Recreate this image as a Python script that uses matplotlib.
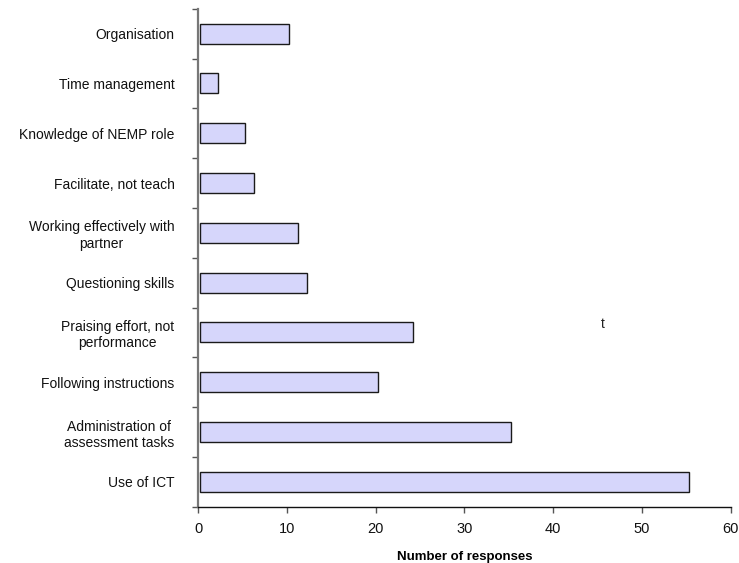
import numpy as np
import matplotlib
matplotlib.use("Agg")
import matplotlib.pyplot as plt
from matplotlib.ticker import FixedLocator

plt.rcParams['font.family'] = ['Liberation Sans', 'DejaVu Sans']

# skills mentioned, listed top to bottom
skills = ["Organisation", "Time management", "Knowledge of NEMP role",
          "Facilitate, not teach", "Working effectively with\npartner",
          "Questioning skills", "Praising effort, not\nperformance",
          "Following instructions", "Administration of\nassessment tasks",
          "Use of ICT"]
responses = [10, 2, 5, 6, 11, 12, 24, 20, 35, 55]

fig = plt.figure(figsize=(7.39, 5.63), dpi=100)
ax = fig.add_axes([0.268, 0.100, 0.721, 0.8845])

n = len(skills)
ypos = np.arange(n)
ax.barh(ypos, responses, height=0.4, left=0.25, color='#d6d6fb',
        edgecolor='#1a1a1a', linewidth=1.0, zorder=3)

ax.set_ylim(n - 0.5, -0.5)
ax.set_xlim(0, 60)
ax.set_xticks(np.arange(0, 61, 10))

# labels at bar centres, tick marks between categories
ax.set_yticks(ypos)
ax.set_yticklabels(skills, fontsize=10, ha='right', multialignment='center')
ax.tick_params(axis='y', which='major', length=0, pad=17, labelcolor='#111111')
ax.yaxis.set_minor_locator(FixedLocator(np.arange(-0.5, n, 1.0)))
ax.tick_params(axis='y', which='minor', length=4, width=1, color='#555555')
ax.tick_params(axis='x', length=4, width=1, color='#555555', labelsize=10.5,
               pad=7, labelcolor='#111111')

for s in ['top', 'right']:
    ax.spines[s].set_visible(False)
ax.spines['left'].set_color('#777777')
ax.spines['left'].set_linewidth(1.6)
ax.spines['bottom'].set_color('#111111')
ax.spines['bottom'].set_linewidth(1.0)

ax.set_xlabel("Number of responses", fontsize=9.5, fontweight='bold', labelpad=11)

fig.text(603 / 739, 1 - 324 / 563, "t", fontsize=10, ha='center', va='center',
         color='#222222')

fig.savefig("out.png", dpi=100)
